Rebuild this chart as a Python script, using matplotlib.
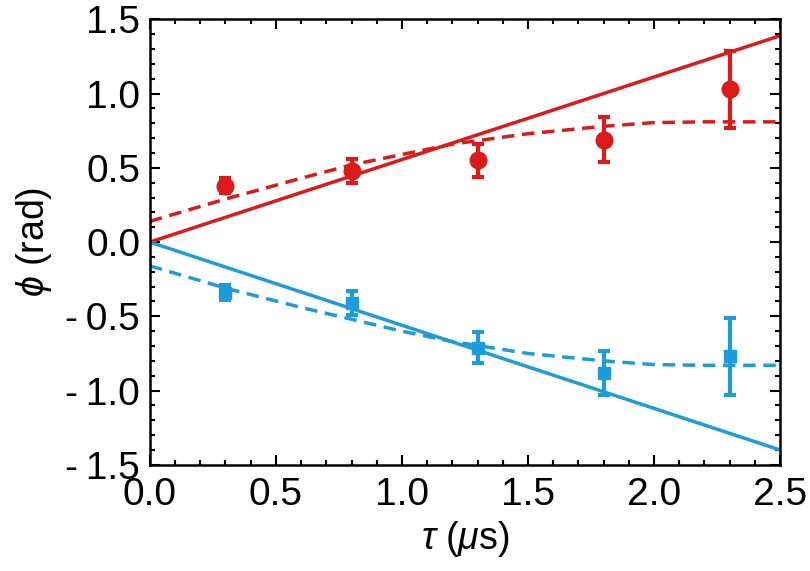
import numpy as np
import matplotlib.pyplot as plt
from matplotlib.ticker import MultipleLocator, FixedLocator, FuncFormatter

plt.rcParams['font.family'] = ['Liberation Sans', 'DejaVu Sans']
plt.rcParams['mathtext.fontset'] = 'custom'
plt.rcParams['mathtext.rm'] = 'Liberation Sans'
plt.rcParams['mathtext.it'] = 'Liberation Sans:italic'
plt.rcParams['mathtext.fallback'] = 'cm'

# measured points
tau = [0.3, 0.8, 1.3, 1.8, 2.3]
phi_red = [0.38, 0.48, 0.55, 0.69, 1.03]
err_red = [0.05, 0.08, 0.11, 0.15, 0.26]
phi_blue = [-0.34, -0.41, -0.71, -0.88, -0.77]
err_blue = [0.05, 0.08, 0.105, 0.148, 0.26]

# linear fits (solid)
lin_x = [0.0, 2.5]
lin_red = [0.0, 1.39]
lin_blue = [0.0, -1.40]

# saturating model (dashed)
dash_x = [0.0, 0.3, 0.6, 0.8, 1.0, 1.2, 1.5, 1.8, 2.0, 2.2, 2.5]
dash_red = [0.14, 0.29, 0.43, 0.52, 0.59, 0.66, 0.73, 0.78, 0.805, 0.81, 0.81]
dash_blue = [-0.16, -0.31, -0.44, -0.52, -0.60, -0.67, -0.75, -0.80, -0.825, -0.83, -0.83]

x_ticks = [0.0, 0.5, 1.0, 1.5, 2.0, 2.5]
y_ticks = [-1.5, -1.0, -0.5, 0.0, 0.5, 1.0, 1.5]

RED = '#dc1a1a'
BLUE = '#1e9bdb'

fig = plt.figure(figsize=(8.1, 5.71), dpi=100)
ax = fig.add_axes([0.185, 0.186, 0.778, 0.780])

ax.plot(lin_x, lin_red, color=RED, lw=2.5)
ax.plot(lin_x, lin_blue, color=BLUE, lw=2.5)
ax.plot(dash_x, dash_red, color=RED, lw=2.5, ls=(0, (3.6, 2.2)))
ax.plot(dash_x, dash_blue, color=BLUE, lw=2.5, ls=(0, (3.6, 2.2)))

ax.errorbar(tau, phi_red, yerr=err_red, fmt='o', color=RED, ms=12,
            elinewidth=3, capsize=4, capthick=3)
ax.errorbar(tau, phi_blue, yerr=err_blue, fmt='s', color=BLUE, ms=8,
            elinewidth=3, capsize=4, capthick=3)

ax.set_xlim(0, 2.5)
ax.set_ylim(-1.5, 1.5)

ax.xaxis.set_major_locator(FixedLocator(x_ticks))
ax.xaxis.set_minor_locator(MultipleLocator(0.1))
ax.yaxis.set_major_locator(FixedLocator(y_ticks))
ax.yaxis.set_minor_locator(MultipleLocator(0.1))
ax.xaxis.set_major_formatter(FuncFormatter(lambda v, p: f'{v:.1f}'))
ax.yaxis.set_major_formatter(FuncFormatter(
    lambda v, p: ('-\u2009' if v < -1e-9 else '') + f'{abs(v):.1f}'))

ax.tick_params(which='both', direction='in', top=True, right=True,
               labelsize=28, width=1.5)
ax.tick_params(axis='x', pad=9)
ax.tick_params(axis='y', pad=7)
ax.tick_params(which='major', length=7)
ax.tick_params(which='minor', length=3.5)
for s in ax.spines.values():
    s.set_linewidth(1.8)

ax.set_xlabel(r'$\tau$ ($\mu$s)', fontsize=27, labelpad=4)
ax.set_ylabel(r'$\phi$ (rad)', fontsize=27, labelpad=8)

fig.savefig('out.png', dpi=100)
